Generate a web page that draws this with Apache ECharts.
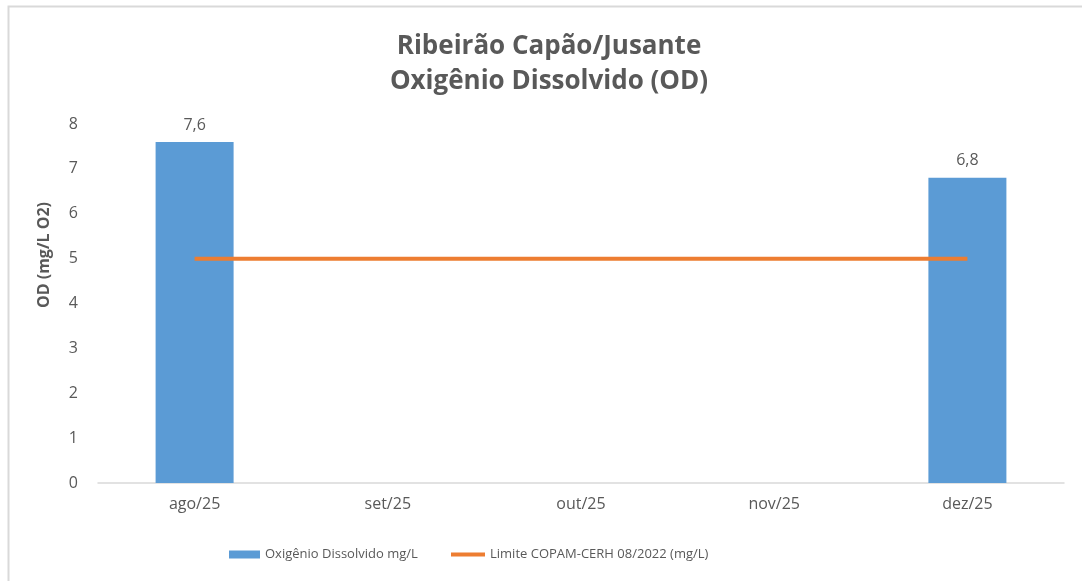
<!DOCTYPE html>
<html>
<head>
<meta charset="utf-8">
<script src="https://cdn.jsdelivr.net/npm/echarts@6/dist/echarts.min.js"></script>
<style>
html, body { margin: 0; padding: 0; background: #fff; }
#chart { width: 1082px; height: 581px; }
</style>
</head>
<body>
<div id="chart"></div>
<script>
// Monthly sampling periods
const categories = ['ago/25', 'set/25', 'out/25', 'nov/25', 'dez/25'];
// Dissolved oxygen measured (mg/L); months without sampling are null
const odValues = [7.6, null, null, null, 6.8];
// COPAM-CERH 08/2022 minimum limit (mg/L)
const limitValues = [5, 5, 5, 5, 5];
const yTicks = { min: 0, max: 8, interval: 1 };

const font = '"Open Sans", "Noto Sans", sans-serif';
const textGray = '#595959';
const barColor = '#5b9bd5';
const lineColor = '#ed7d31';

const chart = echarts.init(document.getElementById('chart'));
chart.setOption({
  animation: false,
  backgroundColor: '#fff',
  textStyle: { fontFamily: font },
  graphic: [
    {
      type: 'rect',
      shape: { x: 8.5, y: 6.5, width: 1090, height: 590 },
      style: { fill: 'none', stroke: '#d9d9d9', lineWidth: 2 },
      silent: true
    },
    {
      // vertical axis title
      type: 'text',
      x: 44,
      y: 255,
      rotation: Math.PI / 2,
      style: {
        text: 'OD (mg/L O2)',
        fill: textGray,
        font: 'bold 16px ' + font,
        align: 'center',
        verticalAlign: 'middle'
      },
      silent: true
    }
  ],
  title: {
    text: 'Ribeirão Capão/Jusante\nOxigênio Dissolvido (OD)',
    left: 544,
    textAlign: 'center',
    top: 24,
    textStyle: { fontFamily: font, fontSize: 26, fontWeight: 'bold', color: textGray, lineHeight: 35 }
  },
  legend: [
    {
      left: 224,
      top: 543,
      itemWidth: 31,
      itemHeight: 8,
      itemGap: 0,
      textStyle: { fontFamily: font, fontSize: 13, color: textGray },
      data: [{ name: 'Oxigênio Dissolvido mg/L', icon: 'rect' }]
    },
    {
      left: 446,
      top: 543,
      itemWidth: 34,
      itemHeight: 4,
      itemGap: 0,
      textStyle: { fontFamily: font, fontSize: 13, color: textGray },
      data: [{ name: 'Limite COPAM-CERH 08/2022 (mg/L)', icon: 'rect' }]
    }
  ],
  grid: { left: 98, right: 18, top: 124, bottom: 98 },
  xAxis: {
    type: 'category',
    data: categories,
    axisLine: { lineStyle: { color: '#d9d9d9', width: 1.5 } },
    axisTick: { show: false },
    axisLabel: { fontFamily: font, fontSize: 16, color: textGray, margin: 13 }
  },
  yAxis: {
    type: 'value',
    min: yTicks.min,
    max: yTicks.max,
    interval: yTicks.interval,
    axisLine: { show: false },
    axisTick: { show: false },
    splitLine: { show: false },
    axisLabel: { fontFamily: font, fontSize: 16, color: textGray, margin: 20 }
  },
  series: [
    {
      name: 'Oxigênio Dissolvido mg/L',
      type: 'bar',
      data: odValues,
      barWidth: 78,
      itemStyle: { color: barColor },
      label: {
        show: true,
        position: 'top',
        distance: 9,
        fontFamily: font,
        fontSize: 16,
        color: textGray,
        formatter: p => String(p.value).replace('.', ',')
      }
    },
    {
      name: 'Limite COPAM-CERH 08/2022 (mg/L)',
      type: 'line',
      data: limitValues,
      symbol: 'none',
      lineStyle: { color: lineColor, width: 4 },
      itemStyle: { color: lineColor },
      z: 5
    }
  ]
});
</script>
</body>
</html>
